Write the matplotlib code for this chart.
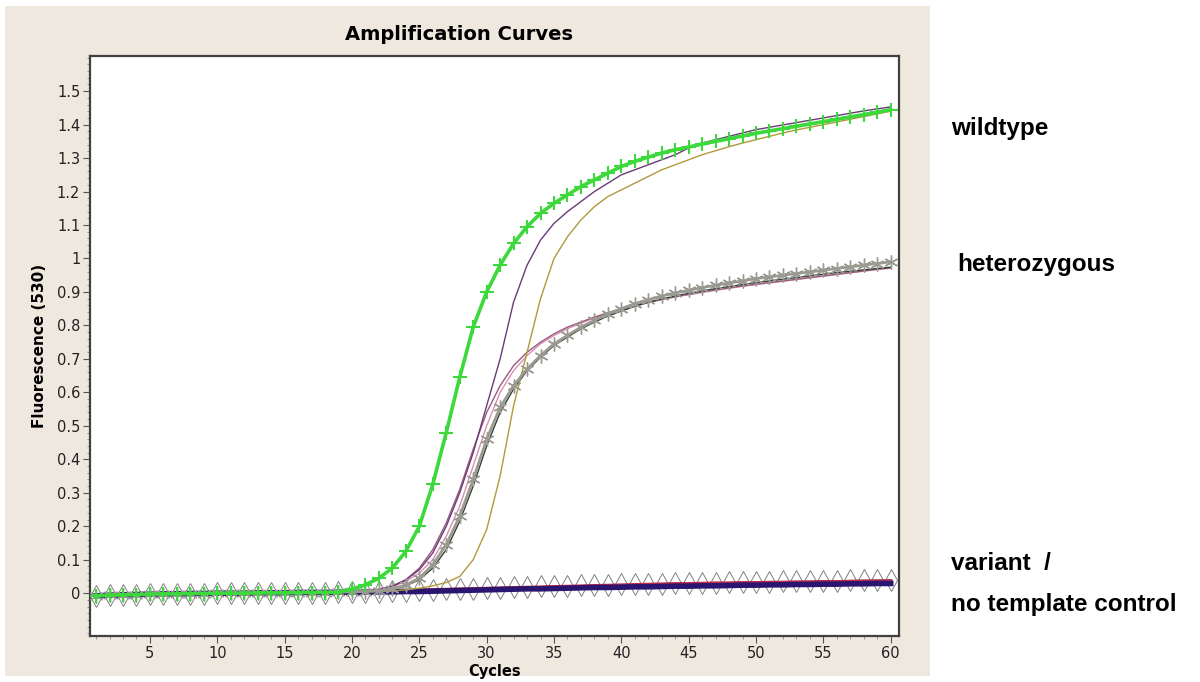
"""Amplification curves (fluorescence 530) for wildtype / heterozygous / variant samples."""

import matplotlib

matplotlib.use("Agg")
import matplotlib.pyplot as plt
import numpy as np
from matplotlib.patches import Rectangle
from matplotlib.ticker import FuncFormatter, MultipleLocator

SANS = ["Liberation Sans", "DejaVu Sans"]

cycles = np.arange(1, 61)

# shared pre-amplification baseline, cycles 1-19
baseline = [-0.008, -0.006, -0.005, -0.004, -0.003, -0.002, -0.002, -0.001, -0.001, 0.0,
            0.0, 0.0, 0.001, 0.001, 0.001, 0.002, 0.002, 0.002, 0.003]

# wildtype, cycles 20-60
wt_green = [0.012, 0.025, 0.045, 0.075, 0.125, 0.2, 0.325, 0.48, 0.645, 0.795,
            0.9, 0.98, 1.045, 1.095, 1.135, 1.165, 1.19, 1.215, 1.235, 1.255,
            1.275, 1.29, 1.303, 1.315, 1.325, 1.333, 1.342, 1.35, 1.358, 1.366,
            1.374, 1.381, 1.388, 1.395, 1.402, 1.409, 1.416, 1.423, 1.43, 1.437, 1.445]
wt_purple = [0.004, 0.006, 0.01, 0.02, 0.04, 0.07, 0.12, 0.2, 0.3, 0.42,
             0.56, 0.70, 0.87, 0.98, 1.055, 1.105, 1.14, 1.17, 1.2, 1.225,
             1.25, 1.265, 1.28, 1.295, 1.31, 1.33, 1.345, 1.355, 1.365, 1.375,
             1.385, 1.392, 1.399, 1.406, 1.413, 1.42, 1.427, 1.434, 1.441, 1.447, 1.453]
wt_olive = [0.003, 0.004, 0.005, 0.007, 0.01, 0.015, 0.022, 0.032, 0.05, 0.1,
            0.19, 0.35, 0.56, 0.72, 0.88, 1.0, 1.065, 1.115, 1.155, 1.185,
            1.205, 1.225, 1.245, 1.265, 1.28, 1.295, 1.31, 1.322, 1.334, 1.345,
            1.355, 1.365, 1.375, 1.384, 1.392, 1.40, 1.408, 1.416, 1.424, 1.432, 1.44]

# heterozygous, cycles 20-60
het_grey = [0.004, 0.005, 0.007, 0.012, 0.025, 0.045, 0.085, 0.145, 0.23, 0.34,
            0.46, 0.555, 0.62, 0.67, 0.71, 0.745, 0.77, 0.795, 0.815, 0.835,
            0.85, 0.865, 0.877, 0.888, 0.897, 0.905, 0.913, 0.92, 0.927, 0.933,
            0.94, 0.945, 0.95, 0.955, 0.96, 0.965, 0.97, 0.975, 0.98, 0.985, 0.99]
het_dark = [0.004, 0.005, 0.007, 0.011, 0.022, 0.04, 0.075, 0.13, 0.215, 0.32,
            0.44, 0.54, 0.61, 0.665, 0.705, 0.74, 0.765, 0.79, 0.81, 0.828,
            0.843, 0.857, 0.869, 0.879, 0.888, 0.896, 0.903, 0.91, 0.916, 0.922,
            0.928, 0.933, 0.938, 0.943, 0.948, 0.953, 0.958, 0.962, 0.966, 0.97, 0.974]
het_mauve = [0.005, 0.008, 0.012, 0.022, 0.04, 0.075, 0.13, 0.21, 0.31, 0.43,
             0.54, 0.62, 0.68, 0.72, 0.75, 0.775, 0.795, 0.81, 0.825, 0.838,
             0.85, 0.86, 0.87, 0.878, 0.886, 0.893, 0.9, 0.906, 0.912, 0.918,
             0.923, 0.928, 0.933, 0.938, 0.943, 0.948, 0.953, 0.958, 0.963, 0.968, 0.972]
het_pink = [0.004, 0.007, 0.011, 0.02, 0.035, 0.06, 0.1, 0.17, 0.26, 0.38,
            0.5, 0.6, 0.665, 0.71, 0.745, 0.77, 0.79, 0.807, 0.822, 0.836,
            0.848, 0.858, 0.868, 0.877, 0.885, 0.892, 0.899, 0.905, 0.911, 0.917,
            0.922, 0.927, 0.932, 0.937, 0.942, 0.947, 0.952, 0.957, 0.962, 0.967, 0.971]

# variant / no template control, cycles 20-60
var_navy = [0.003, 0.003, 0.004, 0.004, 0.005, 0.005, 0.006, 0.007, 0.008, 0.009,
            0.01, 0.011, 0.012, 0.013, 0.013, 0.014, 0.015, 0.016, 0.017, 0.017,
            0.018, 0.019, 0.019, 0.02, 0.021, 0.021, 0.022, 0.022, 0.023, 0.024,
            0.024, 0.025, 0.025, 0.026, 0.026, 0.027, 0.027, 0.028, 0.028, 0.029, 0.029]
var_red = [0.003, 0.004, 0.005, 0.006, 0.007, 0.008, 0.009, 0.01, 0.011, 0.012,
           0.013, 0.014, 0.015, 0.016, 0.017, 0.018, 0.019, 0.02, 0.021, 0.022,
           0.023, 0.024, 0.025, 0.026, 0.027, 0.027, 0.028, 0.029, 0.029, 0.03,
           0.03, 0.031, 0.031, 0.032, 0.032, 0.033, 0.033, 0.034, 0.034, 0.035, 0.035]
ntc_diamond = [0.003, 0.004, 0.005, 0.006, 0.008, 0.009, 0.01, 0.012, 0.013, 0.014,
               0.016, 0.017, 0.018, 0.019, 0.02, 0.021, 0.022, 0.023, 0.024, 0.025,
               0.026, 0.027, 0.027, 0.028, 0.029, 0.03, 0.031, 0.031, 0.032, 0.033,
               0.033, 0.034, 0.035, 0.035, 0.036, 0.037, 0.037, 0.038, 0.039, 0.039, 0.04]

y_ticks = [0, 0.1, 0.2, 0.3, 0.4, 0.5, 0.6, 0.7, 0.8, 0.9, 1.0, 1.1, 1.2, 1.3, 1.4, 1.5]
x_ticks = [5, 10, 15, 20, 25, 30, 35, 40, 45, 50, 55, 60]

fig = plt.figure(figsize=(12, 6.82), dpi=100)
fig.patches.append(Rectangle((5 / 1200, 6 / 682), 925 / 1200, 670 / 682,
                             transform=fig.transFigure, facecolor="#EEE8DF",
                             edgecolor="none", zorder=-5))
ax = fig.add_axes([0.075, 0.0674, 0.674, 0.8505])
ax.set_facecolor("white")

asterisk = (6, 2, 0)

# baseline samples first so the amplified ones sit on top
ax.plot(cycles, baseline + ntc_diamond, color="#303030", lw=0.8, marker="d",
        ms=11, mfc="none", mec="#808080", mew=0.7, zorder=2)
ax.plot(cycles, baseline + var_red, color="#c0284a", lw=3, zorder=3)
ax.plot(cycles, baseline + var_navy, color="#2a1670", lw=4, zorder=3)

ax.plot(cycles, baseline + het_pink, color="#d890b0", lw=1, zorder=4)
ax.plot(cycles, baseline + het_mauve, color="#9a5a80", lw=1, zorder=4)
ax.plot(cycles, baseline + het_dark, color="#2f3f30", lw=1, zorder=4)
ax.plot(cycles, baseline + het_grey, color="#9a9a92", lw=2, marker=asterisk,
        ms=10, mew=1.0, zorder=5)

ax.plot(cycles, baseline + wt_olive, color="#b09a3a", lw=1, zorder=4)
ax.plot(cycles, baseline + wt_purple, color="#6a3a78", lw=1, zorder=4)
ax.plot(cycles, baseline + wt_green, color="#3cd83c", lw=2.6, marker="+",
        ms=10, mew=1.5, zorder=6)

ax.set_xlim(0.55, 60.6)
ax.set_ylim(-0.128, 1.605)
ax.set_xticks(x_ticks)
ax.set_yticks(y_ticks)
ax.xaxis.set_minor_locator(MultipleLocator(1))
ax.yaxis.set_minor_locator(MultipleLocator(0.02))
ax.yaxis.set_major_formatter(FuncFormatter(lambda v, _: f"{v:g}"))
ax.tick_params(which="major", length=5, width=0.8, color="#555555",
               labelsize=10.5, labelcolor="#222222", pad=2)
ax.tick_params(which="minor", length=2, width=0.6, color="#888888")
for side in ax.spines.values():
    side.set_color("#404040")
    side.set_linewidth(1.6)

ax.set_xlabel("Cycles", fontsize=10.5, fontweight="bold", labelpad=2)
ax.set_ylabel("Fluorescence (530)", fontsize=11, fontweight="bold", labelpad=7)

fig.text(459 / 1200, 1 - 35 / 682, "Amplification Curves",
         fontsize=14, fontweight="bold", ha="center", va="center")

labels = [("wildtype", 951, 128), ("heterozygous", 957, 265),
          ("variant  /", 951, 563), ("no template control", 951, 604)]
for txt, px, py in labels:
    fig.text(px / 1200, 1 - py / 682, txt, family=SANS, fontsize=17.5,
             fontweight="bold", ha="left", va="center")

fig.savefig("out.png", dpi=100)
